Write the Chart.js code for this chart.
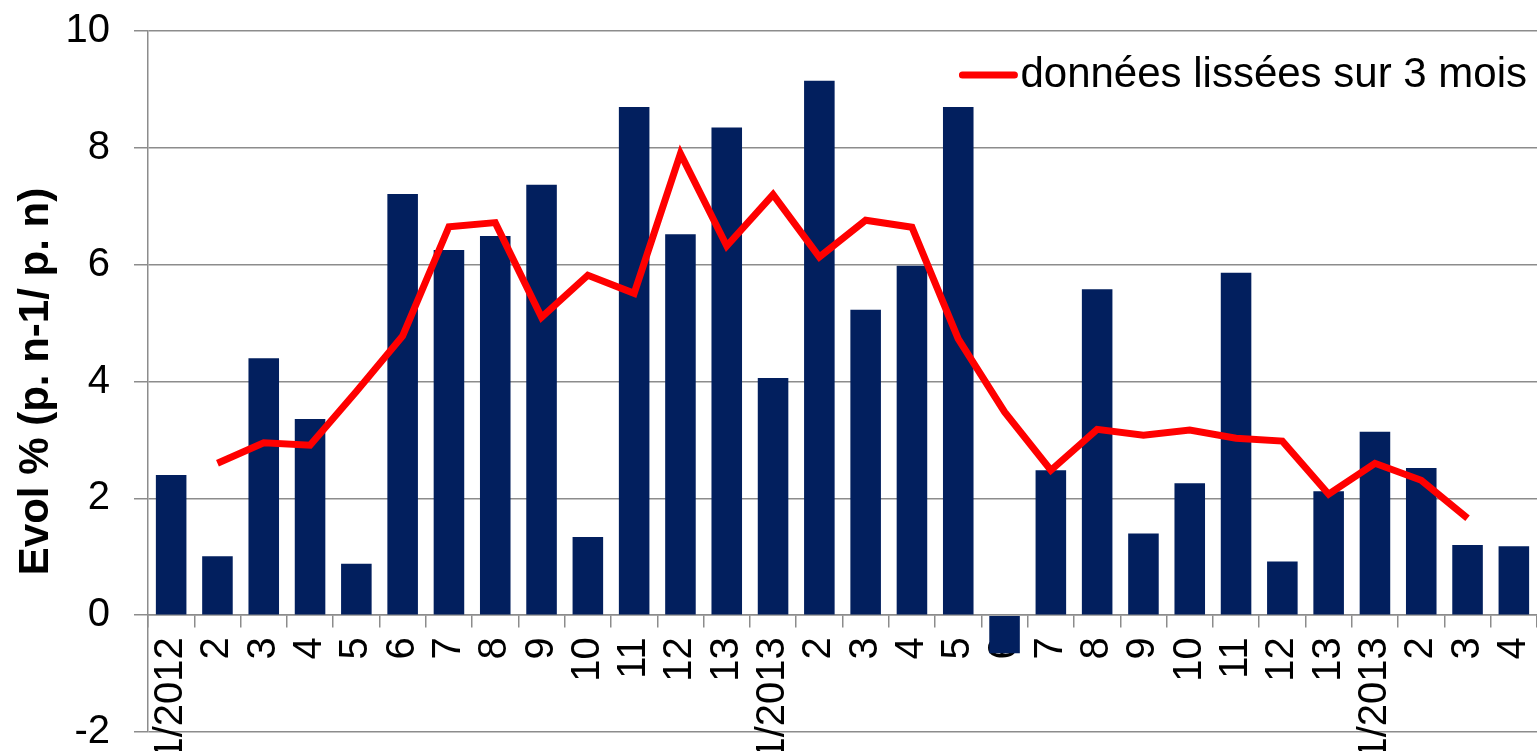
<!DOCTYPE html>
<html>
<head>
<meta charset="utf-8">
<script src="https://cdn.jsdelivr.net/npm/chart.js@4/dist/chart.umd.min.js"></script>
<style>
  html, body { margin: 0; padding: 0; background: #fff; overflow: hidden; }
</style>
</head>
<body>
<canvas id="chart" width="1537" height="751"></canvas>
<script>
// mois (1/2012 ... 13, 1/2013 ...)
const mois = ['1/2012', '2', '3', '4', '5', '6', '7', '8', '9', '10', '11', '12', '13',
              '1/2013', '2', '3', '4', '5', '6', '7', '8', '9', '10', '11', '12', '13',
              '1/2013', '2', '3', '4'];

// evolution mensuelle (barres)
const evol = [2.40, 1.01, 4.40, 3.36, 0.88, 7.21, 6.25, 6.49, 7.37, 1.34, 8.70, 6.52, 8.35,
              4.06, 9.15, 5.23, 5.98, 8.70, -0.65, 2.48, 5.58, 1.40, 2.26, 5.86, 0.92, 2.12,
              3.14, 2.52, 1.20, 1.18];

// données lissées sur 3 mois (courbe)
const lisse = [null, 2.60, 2.95, 2.91, 3.83, 4.78, 6.65, 6.72, 5.10, 5.82, 5.51, 7.90, 6.32,
               7.20, 6.13, 6.76, 6.64, 4.73, 3.48, 2.48, 3.18, 3.08, 3.17, 3.03, 2.98, 2.07,
               2.60, 2.31, 1.66, null];

const yTicks = { min: -2, max: 10, step: 2 };

const police = "'Liberation Sans', Arial, sans-serif";
const gris = '#8c8c8c';

// legende dans la zone du graphique, en haut a droite
const legendeInterne = {
    id: 'legendeInterne',
    afterDraw(chart) {
        const c = chart.ctx;
        const ds = chart.data.datasets[0];
        const area = chart.chartArea;
        c.save();
        c.font = `42px ${police}`;
        const w = c.measureText(ds.label).width;
        const xt = area.right - 10 - w;
        const y = area.top + 44;
        c.strokeStyle = ds.borderColor;
        c.lineWidth = ds.borderWidth;
        c.lineCap = 'round';
        c.beginPath();
        c.moveTo(xt - 58, y);
        c.lineTo(xt - 6, y);
        c.stroke();
        c.fillStyle = '#000';
        c.textBaseline = 'middle';
        c.fillText(ds.label, xt, y);
        c.restore();
    }
};

const ctx = document.getElementById('chart').getContext('2d');
new Chart(ctx, {
    type: 'bar',
    data: {
        labels: mois,
        datasets: [
            {
                type: 'line',
                label: 'données lissées sur 3 mois',
                data: lisse,
                borderColor: '#ff0000',
                backgroundColor: '#ff0000',
                borderWidth: 7,
                pointRadius: 0,
                tension: 0,
                order: 0
            },
            {
                type: 'bar',
                label: 'evol',
                data: evol,
                backgroundColor: '#021f5e',
                barPercentage: 0.66,
                categoryPercentage: 1,
                order: 1
            }
        ]
    },
    options: {
        responsive: false,
        animation: false,
        layout: { padding: { top: 31, right: 0, bottom: 19, left: 0 } },
        plugins: {
            tooltip: { enabled: false },
            legend: { display: false }
        },
        scales: {
            x: {
                position: { y: 0 },
                z: 1,
                border: { color: gris, width: 1.5 },
                grid: { drawOnChartArea: false, color: gris, lineWidth: 1.5, tickLength: 12, offset: true },
                ticks: {
                    autoSkip: false,
                    minRotation: 90,
                    maxRotation: 90,
                    padding: 10,
                    color: '#000',
                    font: { family: police, size: 40 }
                },
                afterFit: s => { s.height = 0; s.paddingLeft = 0; s.paddingRight = 0; }
            },
            y: {
                min: yTicks.min,
                max: yTicks.max,
                border: { color: gris, width: 1.5 },
                grid: { color: gris, lineWidth: 1.5, tickLength: 14 },
                ticks: {
                    stepSize: yTicks.step,
                    padding: 24,
                    color: '#000',
                    font: { family: police, size: 40 }
                },
                title: {
                    display: true,
                    text: 'Evol % (p. n-1/ p. n)',
                    color: '#000',
                    padding: { top: 11, bottom: 0 },
                    font: { family: police, size: 42, weight: 'bold' }
                },
                afterFit: s => { s.width = 148; s.paddingTop = 0; s.paddingBottom = 0; }
            }
        }
    },
    plugins: [legendeInterne]
});
</script>
</body>
</html>
